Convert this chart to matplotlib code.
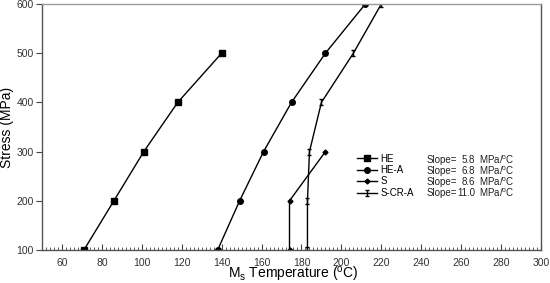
import matplotlib
matplotlib.use("Agg")
import matplotlib.pyplot as plt
from matplotlib.path import Path
from matplotlib.ticker import MultipleLocator

plt.rcParams['font.family'] = ['Liberation Sans', 'DejaVu Sans']
plt.rcParams['mathtext.fontset'] = 'custom'
plt.rcParams['mathtext.rm'] = 'Liberation Sans'
plt.rcParams['mathtext.it'] = 'Liberation Sans:italic'

# data
he_t = [71, 86, 101, 118, 140]
he_s = [100, 200, 300, 400, 500]
hea_t = [138, 149, 161, 175, 192, 212]
hea_s = [100, 200, 300, 400, 500, 600]
s_t = [174, 174, 192]
s_s = [100, 200, 300]
scra_t = [183, 183, 184, 190, 206, 220]
scra_s = [100, 200, 300, 400, 500, 600]

names = ["HE", "HE-A", "S", "S-CR-A"]
slopes = ["5.8", "6.8", "8.6", "11.0"]

# capped vertical bar marker for S-CR-A
ibar = Path([(-0.6, 1), (0.6, 1), (0, 1), (0, -1), (-0.6, -1), (0.6, -1)],
            [Path.MOVETO, Path.LINETO, Path.MOVETO, Path.LINETO, Path.MOVETO, Path.LINETO])

fig = plt.figure(figsize=(5.5, 2.83), dpi=100)
ax = fig.add_axes([0.0764, 0.1166, 0.9072, 0.8693])

lw = 1.0
ax.plot(he_t, he_s, '-', color='black', lw=lw, marker='s', ms=4, label=names[0])
ax.plot(hea_t, hea_s, '-', color='black', lw=lw, marker='o', ms=4, label=names[1])
ax.plot(s_t, s_s, '-', color='black', lw=lw, marker='D', ms=2.5, label=names[2])
ax.plot(scra_t, scra_s, '-', color='black', lw=lw, marker=ibar, ms=4, mew=1.0, label=names[3])

ax.set_xlim(50, 300)
ax.set_ylim(100, 600)
ax.xaxis.set_major_locator(MultipleLocator(20))
ax.xaxis.set_minor_locator(MultipleLocator(2))
ax.yaxis.set_major_locator(MultipleLocator(100))

ax.tick_params(axis='x', which='major', direction='in', length=4, width=0.8,
               color='#444444', labelsize=7.5, labelcolor='#333333', pad=5.5)
ax.tick_params(axis='x', which='minor', direction='in', length=2.5, width=0.6, color='#444444')
ax.tick_params(axis='y', which='major', direction='out', length=4, width=0.8,
               color='#444444', labelsize=7.5, labelcolor='#333333', pad=2)

for side in ['left', 'bottom', 'right']:
    ax.spines[side].set_color('#555555')
    ax.spines[side].set_linewidth(1.0)
ax.spines['top'].set_color('#999999')
ax.spines['top'].set_linewidth(1.0)

ax.set_xlabel(r"M$_\mathregular{s}$ Temperature ($^\mathregular{o}$C)", fontsize=10, va='top')
ax.xaxis.set_label_coords(0.503, -0.062)
ax.set_ylabel("Stress (MPa)", fontsize=10)
ax.yaxis.set_label_coords(-0.056, 0.5)

leg = ax.legend(loc='upper left', bbox_to_anchor=(0.632, 0.392), frameon=False,
                fontsize=7, handlelength=2.0, handletextpad=0.4, labelspacing=0.15,
                borderpad=0, borderaxespad=0)

for i, sl in enumerate(slopes):
    y = 0.366 - i * 0.0447
    ax.text(0.771, y, "Slope=", transform=ax.transAxes, fontsize=7,
            ha='left', va='center', color='#222222')
    ax.text(0.868, y, sl, transform=ax.transAxes, fontsize=7,
            ha='right', va='center', color='#222222')
    ax.text(0.875, y, "MPa/$^\\mathregular{o}$C", transform=ax.transAxes, fontsize=7,
            ha='left', va='center', color='#222222')

fig.savefig("out.png", dpi=100)
